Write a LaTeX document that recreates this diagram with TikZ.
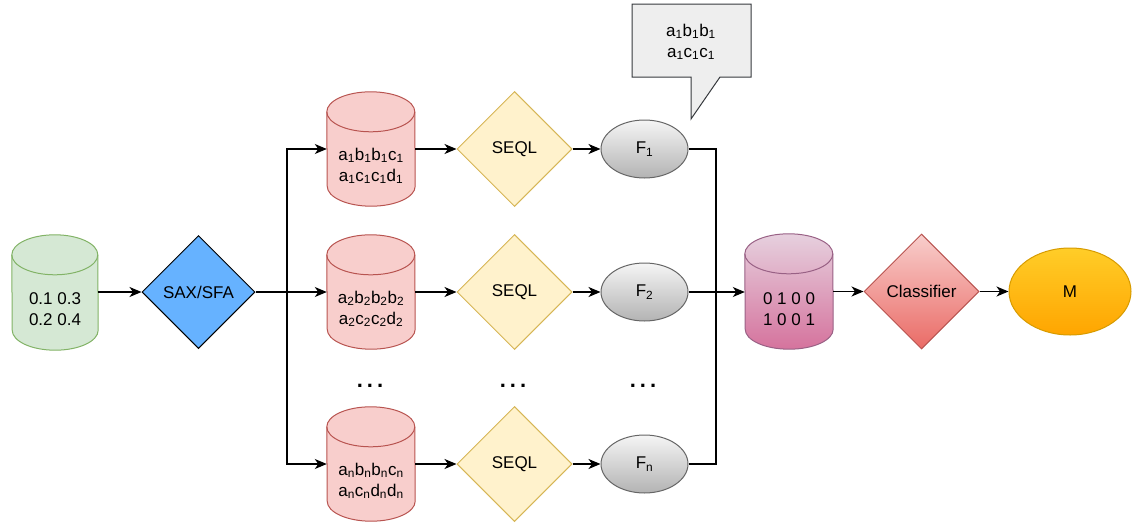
\documentclass[tikz,border=0pt]{standalone}
\usepackage{fontspec}
\setmainfont{Liberation Sans}
\usetikzlibrary{shapes.geometric,arrows.meta,calc}
\definecolor{gfill}{HTML}{D5E8D4}
\definecolor{gline}{HTML}{82B366}
\definecolor{rfill}{HTML}{F8CECC}
\definecolor{rline}{HTML}{B85450}
\definecolor{yfill}{HTML}{FFF2CC}
\definecolor{yline}{HTML}{D6B656}
\definecolor{bfill}{HTML}{66B2FF}
\definecolor{ptop}{HTML}{E6D0DE}
\definecolor{pbot}{HTML}{D5739D}
\definecolor{pline}{HTML}{996185}
\definecolor{ctop}{HTML}{F8CECC}
\definecolor{cbot}{HTML}{EA6B66}
\definecolor{mtop}{HTML}{FFCD28}
\definecolor{mbot}{HTML}{FFA500}
\definecolor{mline}{HTML}{D79B00}
\definecolor{ftop}{HTML}{F5F5F5}
\definecolor{fbot}{HTML}{B3B3B3}
\definecolor{fline}{HTML}{666666}
\definecolor{kfill}{HTML}{EEEEEE}
\definecolor{kline}{HTML}{36393D}
\newcommand\sbs[1]{\textsubscript{#1}}
\newcommand\drawcyl[4]{%
  \path[#2] ($(#1.north west)+(0pt,-20pt)$) arc[start angle=180,end angle=0,x radius=#3,y radius=20pt]
    -- ($(#1.south east)+(0pt,20pt)$) arc[start angle=0,end angle=-180,x radius=#3,y radius=20pt] -- cycle;
  \draw[#4] ($(#1.north west)+(0pt,-20pt)$) arc[start angle=180,end angle=360,x radius=#3,y radius=20pt];
}
\tikzset{
  every node/.style={font=\fontsize{17}{21}\selectfont},
  cylbox/.style={rectangle, inner sep=0pt, minimum width=88pt, minimum height=114pt},
  cyltext/.style={align=center, inner sep=0pt},
  dia/.style={diamond, inner sep=0pt, minimum width=115pt, minimum height=115pt, line width=1pt},
  fell/.style={ellipse, inner sep=0pt, minimum width=87pt, minimum height=58pt, draw=fline, line width=1pt, top color=ftop, bottom color=fbot},
  conn/.style={line width=1.2pt, -{Stealth[length=12pt,width=10pt,inset=3.5pt]}},
  plain/.style={line width=1.2pt},
  dots/.style={font=\fontsize{22}{26}\selectfont\bfseries, inner sep=0pt}
}
\begin{document}
\begin{tikzpicture}[x=1pt,y=1pt]
\useasboundingbox (0,0) rectangle (1133,-525);
% input cylinder
\node[cylbox, minimum width=86pt, minimum height=115pt] (g) at (55,-292.5) {};
\drawcyl{g}{fill=gfill, draw=gline, line width=1pt}{43pt}{gline, line width=1pt}
\node[cyltext] (gt) at (55,-309) {0.1 0.3\\0.2 0.4};
% SAX/SFA
\node[dia, fill=bfill, draw=black, minimum width=113pt, minimum height=113pt] (s) at (198.5,-292) {SAX/SFA};
% red cylinders
\node[cylbox] (r1) at (371,-149) {};
\node[cylbox] (r2) at (371,-292) {};
\node[cylbox] (rn) at (371,-464) {};
\drawcyl{r1}{fill=rfill, draw=rline, line width=1pt}{44pt}{rline, line width=1pt}
\drawcyl{r2}{fill=rfill, draw=rline, line width=1pt}{44pt}{rline, line width=1pt}
\drawcyl{rn}{fill=rfill, draw=rline, line width=1pt}{44pt}{rline, line width=1pt}
\node[cyltext] (r1t) at (371,-166) {a\sbs{1}b\sbs{1}b\sbs{1}c\sbs{1}\\a\sbs{1}c\sbs{1}c\sbs{1}d\sbs{1}};
\node[cyltext] (r2t) at (371,-309) {a\sbs{2}b\sbs{2}b\sbs{2}b\sbs{2}\\a\sbs{2}c\sbs{2}c\sbs{2}d\sbs{2}};
\node[cyltext] (rnt) at (371,-481) {a\sbs{n}b\sbs{n}b\sbs{n}c\sbs{n}\\a\sbs{n}c\sbs{n}d\sbs{n}d\sbs{n}};
% SEQL
\node[dia, fill=yfill, draw=yline] (q1) at (514.5,-149) {SEQL};
\node[dia, fill=yfill, draw=yline] (q2) at (514.5,-292) {SEQL};
\node[dia, fill=yfill, draw=yline] (qn) at (514.5,-464) {SEQL};
% F
\node[fell] (f1) at (644.5,-149) {F\sbs{1}};
\node[fell] (f2) at (644.5,-292) {F\sbs{2}};
\node[fell] (fn) at (644.5,-464) {F\sbs{n}};
% dots
\node[dots] (d1) at (370,-386) {.\hspace{4pt}.\hspace{4pt}.};
\node[dots] (d2) at (513,-386) {.\hspace{4pt}.\hspace{4pt}.};
\node[dots] (d3) at (643,-386) {.\hspace{4pt}.\hspace{4pt}.};
% callout
\path[fill=kfill, draw=kline, line width=1pt] (632,-4) -- (751,-4) -- (751,-77) -- (720,-77) -- (691,-119) -- (691,-77) -- (632,-77) -- cycle;
\node[cyltext] (k) at (691,-42) {a\sbs{1}b\sbs{1}b\sbs{1}\\a\sbs{1}c\sbs{1}c\sbs{1}};
% feature matrix cylinder
\node[cylbox, minimum height=115pt] (p) at (789,-291.5) {};
\drawcyl{p}{top color=ptop, bottom color=pbot, draw=pline, line width=1pt}{44pt}{pline, line width=1pt}
\node[cyltext] (pt) at (789,-309) {0 1 0 0\\1 0 0 1};
% classifier
\node[dia, top color=ctop, bottom color=cbot, draw=rline] (c) at (921.5,-291.5) {Classifier};
% M
\node[ellipse, inner sep=0pt, minimum width=122pt, minimum height=87pt, draw=mline, line width=1pt, top color=mtop, bottom color=mbot] (m) at (1070,-291.5) {M};
% connectors
\coordinate (j1) at (287,-292);
\coordinate (j2) at (716,-292);
\draw[conn] (g.east |- s) -- (s.west);
\draw[plain] (s.east) -- (j1);
\draw[conn] (j1) |- (r1.west);
\draw[conn] (j1) -- (r2.west);
\draw[conn] (j1) |- (rn.west);
\draw[conn] (r1.east) -- (q1.west);
\draw[conn] (r2.east) -- (q2.west);
\draw[conn] (rn.east) -- (qn.west);
\draw[conn] (q1.east) -- (f1.west);
\draw[conn] (q2.east) -- (f2.west);
\draw[conn] (qn.east) -- (fn.west);
\draw[plain] (f1.east) -| (j2);
\draw[plain] (fn.east) -| (j2);
\draw[conn] (f2.east) -- (p.west |- f2);
\draw[conn] (p.east |- c) -- (c.west);
\draw[conn] (c.east) -- (m.west);
\end{tikzpicture}
\end{document}
